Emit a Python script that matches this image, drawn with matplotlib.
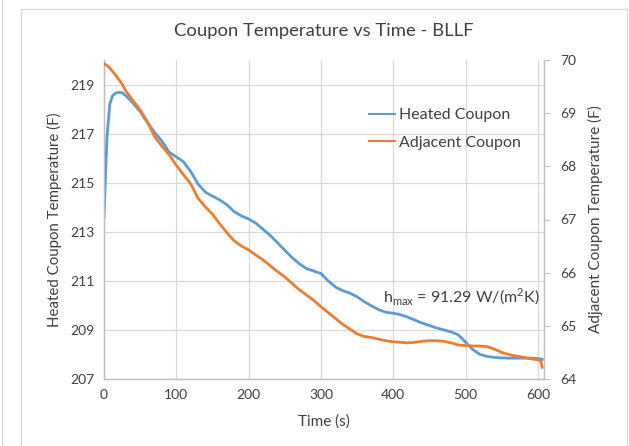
import matplotlib
matplotlib.use("Agg")
import matplotlib.pyplot as plt
from matplotlib.lines import Line2D

plt.rcParams['font.family'] = ['Lato', 'DejaVu Sans']
plt.rcParams['mathtext.fontset'] = 'custom'
plt.rcParams['mathtext.rm'] = 'Lato'

# time (s)
t = [0, 4, 8, 12, 16, 20, 25, 30, 40, 50, 60, 70, 80, 90, 100, 110, 120, 130, 140, 150,
     160, 170, 180, 190, 200, 210, 220, 230, 240, 250, 260, 270, 280, 290, 300,
     310, 320, 330, 340, 350, 360, 370, 380, 390, 400, 410, 420, 430, 440, 450,
     460, 470, 480, 490, 500, 510, 520, 530, 540, 550, 560, 570, 580, 590, 600, 604, 606]

# heated coupon (F), left axis
heated = [213.6, 216.8, 218.2, 218.55, 218.65, 218.68, 218.67, 218.55, 218.25, 217.9,
          217.45, 217.05, 216.7, 216.25, 216.05, 215.85, 215.45, 214.95, 214.62, 214.45,
          214.3, 214.1, 213.82, 213.65, 213.52, 213.35, 213.1, 212.85, 212.55, 212.25,
          211.95, 211.7, 211.5, 211.4, 211.3, 211.0, 210.75, 210.6, 210.5, 210.35,
          210.15, 209.98, 209.82, 209.72, 209.68, 209.62, 209.52, 209.4, 209.28, 209.18,
          209.08, 209.0, 208.92, 208.8, 208.5, 208.2, 208.0, 207.92, 207.88, 207.86,
          207.85, 207.85, 207.85, 207.85, 207.83, 207.82, 207.8]

# adjacent coupon (F), right axis
adjacent = [69.93, 69.9, 69.85, 69.78, 69.72, 69.64, 69.55, 69.42, 69.24, 69.06,
            68.84, 68.56, 68.38, 68.22, 68.02, 67.84, 67.67, 67.4, 67.24, 67.1,
            66.92, 66.75, 66.6, 66.5, 66.43, 66.33, 66.24, 66.13, 66.02, 65.92,
            65.8, 65.68, 65.58, 65.48, 65.36, 65.25, 65.14, 65.03, 64.94, 64.85,
            64.8, 64.78, 64.75, 64.72, 64.7, 64.69, 64.68, 64.69, 64.71, 64.72,
            64.72, 64.71, 64.68, 64.64, 64.63, 64.62, 64.62, 64.61, 64.56, 64.5,
            64.46, 64.43, 64.41, 64.38, 64.36, 64.34, 64.22]

xticks = [0, 100, 200, 300, 400, 500, 600]
lticks = [207, 209, 211, 213, 215, 217, 219]
rticks = [64, 65, 66, 67, 68, 69, 70]

blue = '#5B9BD5'
orange = '#ED7D31'
grid = '#D9D9D9'
txt = '#404040'

fig = plt.figure(figsize=(6.29, 4.46), dpi=100)
# chart frame like excel
fig.add_artist(Line2D([21/629, 21/629], [0, 1 - 9/446], color='#D9D9D9', lw=0.8))
fig.add_artist(Line2D([21/629, 627/629], [1 - 9/446, 1 - 9/446], color='#D9D9D9', lw=0.8))
fig.add_artist(Line2D([627/629, 627/629], [0, 1 - 9/446], color='#D9D9D9', lw=0.8))
fig.add_artist(Line2D([1.5/629, 1.5/629], [0, 1], color='#D9D9D9', lw=0.8))

ax = fig.add_axes([104/629, 67/446, 440/629, 319/446])
ax2 = ax.twinx()

ax.plot(t, heated, color=blue, lw=2, label='Heated Coupon', zorder=3)
ax2.plot(t, adjacent, color=orange, lw=2, label='Adjacent Coupon', zorder=3)

ax.set_xlim(0, 608.5)
ax.set_ylim(207, 220)
ax2.set_ylim(64, 70)
ax.set_xticks(xticks)
ax.set_yticks(lticks)
ax2.set_yticks(rticks)

ax.grid(True, color=grid, lw=0.9)
ax.set_axisbelow(True)
for a in (ax, ax2):
    a.spines['top'].set_visible(False)
    for s in ('left', 'right', 'bottom'):
        a.spines[s].set_color('#BFBFBF')
        a.spines[s].set_linewidth(0.9)
ax.tick_params(axis='both', length=0, labelsize=10, labelcolor=txt, pad=7)
ax2.tick_params(axis='y', length=4, color='#BFBFBF', labelsize=10, labelcolor=txt, pad=8)

ax.set_title('Coupon Temperature vs Time - BLLF', fontsize=13.3, color=txt, pad=17)
ax.set_xlabel('Time (s)', fontsize=11, color=txt, labelpad=10)
ax.set_ylabel('Heated Coupon Temperature (F)', fontsize=10.8, color=txt, labelpad=6)
ax2.set_ylabel('Adjacent Coupon Temperature (F)', fontsize=11, color=txt, labelpad=8)

ax.text(602, 210.35, r'h$_{\mathrm{max}}$ = 91.29 W/(m$^2$K)', ha='right', va='center',
        fontsize=11.5, color=txt)

h1, l1 = ax.get_legend_handles_labels()
h2, l2 = ax2.get_legend_handles_labels()
leg = ax2.legend(h1 + h2, l1 + l2, loc='upper left', bbox_to_anchor=(361/629, 1 - 100/446),
                 bbox_transform=fig.transFigure, frameon=False, fontsize=11.5,
                 handlelength=1.6, handletextpad=0.25, labelspacing=0.85, borderpad=0)
for line in leg.get_lines():
    line.set_linewidth(1.5)
for tx in leg.get_texts():
    tx.set_color(txt)

fig.savefig('out.png', dpi=100)
